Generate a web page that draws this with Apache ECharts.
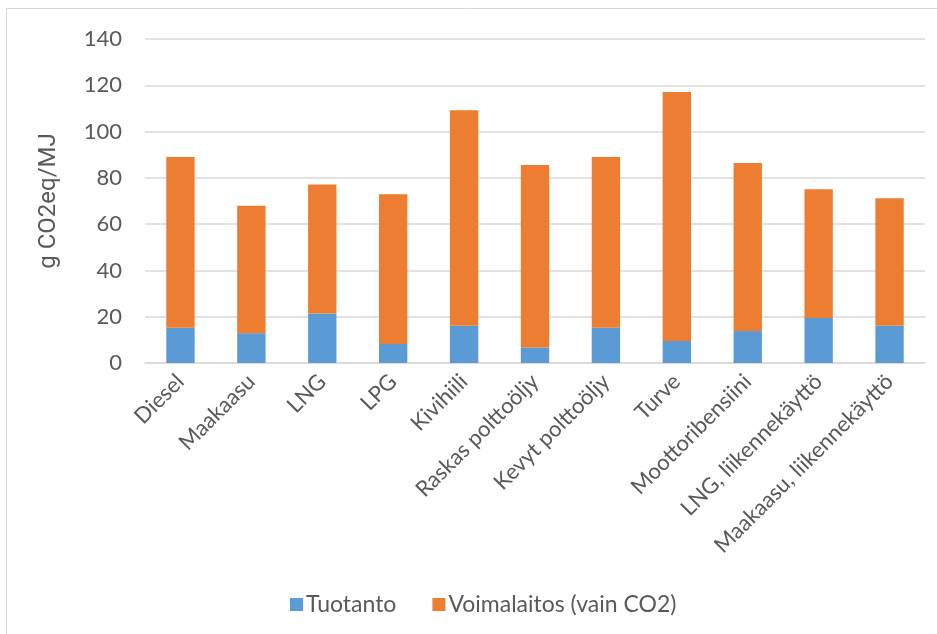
<!DOCTYPE html>
<html>
<head>
<meta charset="utf-8">
<script src="https://cdn.jsdelivr.net/npm/echarts@6/dist/echarts.min.js"></script>
<style>
  html, body { margin: 0; padding: 0; background: #fff; }
  #main { width: 937px; height: 634px; }
</style>
</head>
<body>
<div id="main"></div>
<script>
// polttoaineet
var categories = ['Diesel', 'Maakaasu', 'LNG', 'LPG', 'Kivihiili', 'Raskas polttoöljy',
    'Kevyt polttoöljy', 'Turve', 'Moottoribensiini', 'LNG, liikennekäyttö', 'Maakaasu, liikennekäyttö'];
// g CO2eq/MJ
var tuotanto = [15.2, 12.9, 21.4, 8.2, 16.1, 6.7, 15.2, 9.5, 13.8, 19.4, 16.1];
var voimalaitos = [73.8, 55.1, 55.7, 64.7, 93.1, 78.9, 73.8, 107.6, 72.6, 55.7, 55.1];

var textColor = '#595959';
var fontName = 'Lato, "Open Sans", sans-serif';

var myChart = echarts.init(document.getElementById('main'));

var option = {
    backgroundColor: '#fff',
    animation: false,
    textStyle: { fontFamily: fontName, color: textColor },
    // kehys vasemmalla ja ylhäällä
    graphic: [
        { type: 'line', shape: { x1: 6, y1: 8.5, x2: 937, y2: 8.5 }, style: { stroke: '#d9d9d9', lineWidth: 1 } },
        { type: 'line', shape: { x1: 6.5, y1: 8, x2: 6.5, y2: 634 }, style: { stroke: '#d9d9d9', lineWidth: 1 } }
    ],
    grid: { left: 145, right: 12, top: 39, bottom: 271 },
    legend: {
        left: 285,
        top: 588,
        itemWidth: 13,
        itemHeight: 13,
        itemGap: 36,
        icon: 'rect',
        textStyle: { fontSize: 23, color: textColor, fontFamily: fontName, padding: [0, 0, 0, -2] },
        data: ['Tuotanto', 'Voimalaitos (vain CO2)']
    },
    xAxis: {
        type: 'category',
        data: categories,
        axisTick: { show: false },
        axisLine: { lineStyle: { color: '#d9d9d9', width: 1.5 } },
        axisLabel: {
            interval: 0,
            rotate: 45,
            fontSize: 22,
            color: textColor,
            margin: 15
        }
    },
    yAxis: {
        type: 'value',
        min: 0,
        max: 140,
        interval: 20,
        name: 'g CO2eq/MJ',
        nameLocation: 'middle',
        nameGap: 84,
        nameTextStyle: { fontSize: 24, color: textColor, fontFamily: 'Roboto, sans-serif' },
        axisLine: { show: false },
        axisTick: { show: false },
        axisLabel: { fontSize: 22, color: textColor, margin: 23 },
        splitLine: { lineStyle: { color: '#d9d9d9', width: 1.5 } }
    },
    series: [
        {
            name: 'Tuotanto',
            type: 'bar',
            stack: 'total',
            barWidth: '40%',
            itemStyle: { color: '#5b9bd5' },
            data: tuotanto
        },
        {
            name: 'Voimalaitos (vain CO2)',
            type: 'bar',
            stack: 'total',
            barWidth: '40%',
            itemStyle: { color: '#ed7d31' },
            data: voimalaitos
        }
    ]
};

myChart.setOption(option);
</script>
</body>
</html>
